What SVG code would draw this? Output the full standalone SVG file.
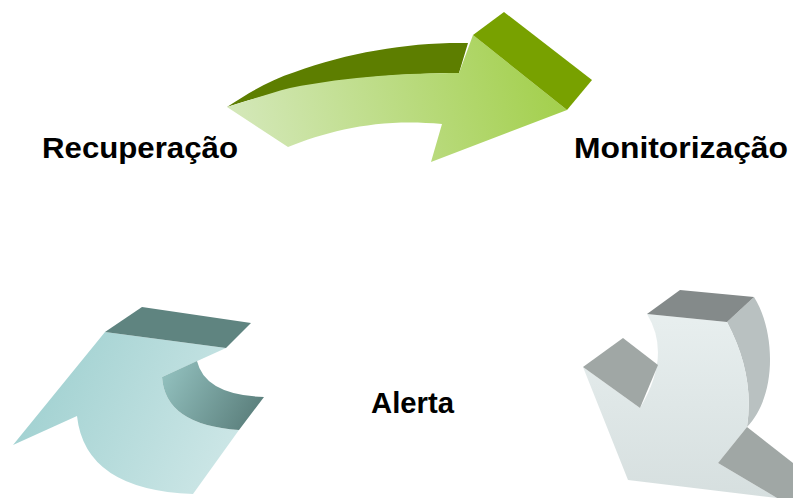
<svg xmlns="http://www.w3.org/2000/svg" width="793" height="498" viewBox="0 0 793 498">
<defs>
<style>
.lbl{font-family:"Liberation Sans",Arial,sans-serif;font-weight:bold;font-size:29.5px;fill:#000}
</style>
<linearGradient id="gFront" x1="227" y1="150" x2="560" y2="60" gradientUnits="userSpaceOnUse">
<stop offset="0" stop-color="#d6e9be"/><stop offset="1" stop-color="#a2cf4a"/>
</linearGradient>
<linearGradient id="tFront" x1="20" y1="380" x2="240" y2="480" gradientUnits="userSpaceOnUse">
<stop offset="0" stop-color="#9fd0d0"/><stop offset="1" stop-color="#d0e8e8"/>
</linearGradient>
<linearGradient id="tInner" x1="165" y1="370" x2="255" y2="420" gradientUnits="userSpaceOnUse">
<stop offset="0" stop-color="#92c0be"/><stop offset="1" stop-color="#5b7f7c"/>
</linearGradient>
<linearGradient id="sFront" x1="0" y1="310" x2="0" y2="498" gradientUnits="userSpaceOnUse">
<stop offset="0" stop-color="#e8efef"/><stop offset="1" stop-color="#d6dfdf"/>
</linearGradient>
</defs>
<g id="connectors">
<g id="arrow-top">
<path d="M227,107 C250,92 270,80 295,72 C350,52 410,42 468,43 L459,73 C390,73 320,82 287,90 C265,96 245,101 227,107 Z" fill="#5d7e00"/>
<path d="M227,107 C250,100 270,93 290,88 C350,76 410,73 459,73 L473,35 L567,110 L431,162 L442,124 C380,118 330,130 288,147 Z" fill="url(#gFront)"/>
<path d="M473,35 L504,12 L592,80 L567,110 Z" fill="#78a100"/>
</g>
<g id="arrow-left">
<path d="M105,332 L13,445 L77,416 Q85,490 193,494 L239,430 Q165,425 162,377 L226,348 Z" fill="url(#tFront)"/>
<path d="M162,377 L197,361 Q205,395 264,397 L239,430 Q165,425 162,377 Z" fill="url(#tInner)"/>
<path d="M105,332 L142,307 L251,323 L226,348 Z" fill="#5f8480"/>
</g>
<g id="arrow-right">
<path d="M727,322 L754,297 C775,330 778,395 747,427 Q755,375 727,322 Z" fill="#b9c1c1"/>
<path d="M647,314 L727,322 Q755,375 747,427 L718,463 L777,498 L628,480 L583,367 L640,408 Q672,355 647,314 Z" fill="url(#sFront)"/>
<path d="M647,314 L680,290 L754,297 L727,322 Z" fill="#848a8a"/>
<path d="M583,367 L623,338 L658,365 L640,408 Z" fill="#a0a7a5"/>
<path d="M718,463 L747,427 L793,463 L793,498 L777,498 Z" fill="#a0a7a5"/>
</g>
</g>
<g id="node-recuperacao"><text class="lbl" x="42" y="158" textLength="196" lengthAdjust="spacingAndGlyphs">Recuperação</text></g>
<g id="node-monitorizacao"><text class="lbl" x="574" y="158" textLength="214" lengthAdjust="spacingAndGlyphs">Monitorização</text></g>
<g id="node-alerta"><text class="lbl" x="371" y="413" textLength="83" lengthAdjust="spacingAndGlyphs">Alerta</text></g>
</svg>
